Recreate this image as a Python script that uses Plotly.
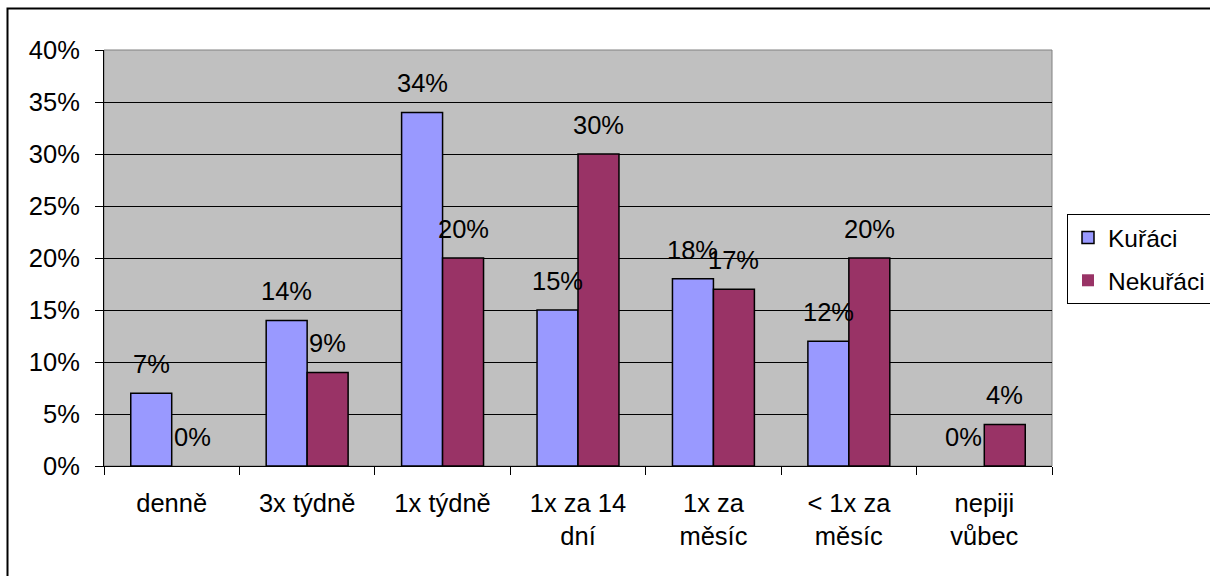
import plotly.graph_objects as go

# Drinking frequency: share of smokers vs. non-smokers (percent)
categories = ["denně", "3x týdně", "1x týdně", "1x za 14 dní",
              "1x za měsíc", "< 1x za měsíc", "nepiji vůbec"]
tick_labels = ["denně", "3x týdně", "1x týdně", "1x za 14<br>dní",
               "1x za<br>měsíc", "&lt; 1x za<br>měsíc", "nepiji<br>vůbec"]
kuraci = [7, 14, 34, 15, 18, 12, 0]
nekuraci = [0, 9, 20, 30, 17, 20, 4]
y_ticks = [0, 5, 10, 15, 20, 25, 30, 35, 40]
y_tick_labels = ["0%", "5%", "10%", "15%", "20%", "25%", "30%", "35%", "40%"]

FONT = "Liberation Sans, Arial, sans-serif"
FS = 25.5
W, H = 1210, 576
L, R, T, B = 104, 1052, 50, 466          # plot area in pixels
BARGAP = 0.395

fig = go.Figure()
series = [("Kuřáci", kuraci, "#9999FF"), ("Nekuřáci", nekuraci, "#993366")]
for name, vals, color in series:
    fig.add_trace(go.Bar(
        x=categories, y=vals, name=name, legendgroup=name,
        marker=dict(color=color,
                    line=dict(color="#000000",
                              width=[1.5 if v > 0 else 0 for v in vals])),
    ))

# value labels floating above each bar
cat_px = (R - L) / len(categories)
half_bar = cat_px * (1 - BARGAP) / 4
for i, (name, vals, color) in enumerate(series):
    shift = -half_bar if i == 0 else half_bar
    for c, v in zip(categories, vals):
        fig.add_annotation(
            x=c, y=v, xref="x", yref="y", text=f"{v}%", showarrow=False,
            xshift=shift, yshift=29, yanchor="middle", xanchor="center",
            font=dict(family=FONT, size=FS, color="#000000"),
        )

def px_x(p):
    return (p - L) / (R - L)

def px_y(p):
    return (B - p) / (B - T)

# plot-area frame and outer chart border
fig.add_shape(type="rect", xref="paper", yref="paper", x0=0, x1=1, y0=0, y1=1,
              line=dict(color="#808080", width=1), layer="below")
fig.add_shape(type="rect", xref="paper", yref="paper",
              x0=px_x(7.5), x1=px_x(1230), y0=px_y(600), y1=px_y(8.5),
              line=dict(color="#000000", width=2))

fig.update_layout(
    width=W, height=H,
    margin=dict(l=L, r=W - R, t=T, b=H - B, autoexpand=False),
    paper_bgcolor="#FFFFFF", plot_bgcolor="#C0C0C0",
    barmode="group", bargap=BARGAP, bargroupgap=0,
    font=dict(family=FONT, size=FS, color="#000000"),
    showlegend=True,
    legend=dict(
        x=px_x(1067), y=px_y(214), xanchor="left", yanchor="top",
        bordercolor="#000000", borderwidth=1, bgcolor="#FFFFFF",
        font=dict(family=FONT, size=24.5, color="#000000"),
        traceorder="grouped", tracegroupgap=8,
        entrywidth=160,
    ),
    xaxis=dict(
        type="category", tickmode="array", tickvals=categories, ticktext=tick_labels,
        tickson="boundaries", ticks="outside", ticklen=8, tickcolor="#000000",
        showline=True, linecolor="#000000", linewidth=1,
        showgrid=False, zeroline=False, ticklabelstandoff=14,
        tickfont=dict(family=FONT, size=FS, color="#000000"),
    ),
    yaxis=dict(
        range=[0, 40], tickmode="array", tickvals=y_ticks, ticktext=y_tick_labels,
        ticks="outside", ticklen=8, tickcolor="#000000",
        showline=True, linecolor="#000000", linewidth=1,
        showgrid=True, gridcolor="#000000", gridwidth=1, zeroline=False,
        ticklabelstandoff=10,
        tickfont=dict(family=FONT, size=FS, color="#000000"),
    ),
)

fig.write_html("out.html")
